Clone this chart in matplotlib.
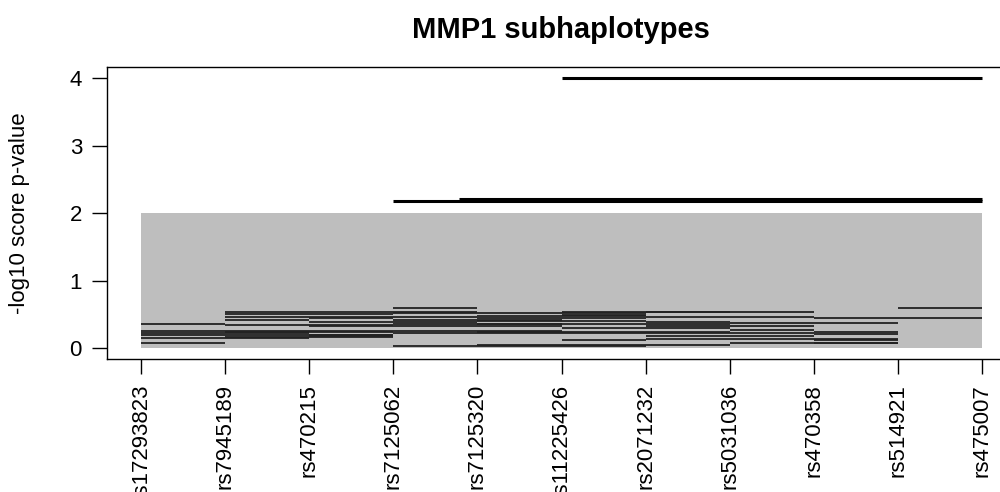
import matplotlib
matplotlib.use('Agg')
import matplotlib.pyplot as plt

plt.rcParams['font.family'] = ['Liberation Sans', 'DejaVu Sans']

snps = ['rs17293823', 'rs7945189', 'rs470215', 'rs7125062', 'rs7125320',
        'rs11225426', 'rs2071232', 'rs5031036', 'rs470358', 'rs514921', 'rs475007']

# significance band
band_start = 1
band_end = 11
band_top = 2

# subhaplotype windows: start snp, end snp, -log10 p
seg_start = [1, 1, 1, 1, 1, 1,
             2, 2, 2, 2, 2, 2, 2,
             3, 3, 3, 3, 3, 3, 3, 3,
             4, 4, 4, 4, 4, 4,
             5, 5, 5, 5, 5, 5, 5, 5,
             6, 6, 6, 6,
             7, 7, 7, 7, 7, 7, 7, 7,
             8, 8, 8, 8,
             9, 9, 9, 9, 9, 9,
             10]
seg_end = [2, 2, 3, 3, 4, 3,
           3, 3, 3, 4, 4, 4, 4,
           5, 5, 4, 5, 5, 6, 4, 4,
           5, 6, 6, 7, 7, 5,
           7, 7, 7, 7, 7, 6, 8, 8,
           8, 7, 7, 8,
           9, 8, 9, 8, 9, 8, 9, 9,
           9, 10, 10, 9,
           11, 10, 10, 10, 10, 10,
           11]
seg_p = [0.356, 0.07, 0.25, 0.22, 0.19, 0.15,
         0.54, 0.46, 0.41, 0.34, 0.50, 0.23, 0.17,
         0.53, 0.46, 0.44, 0.38, 0.33, 0.25, 0.18, 0.20,
         0.60, 0.41, 0.36, 0.22, 0.03, 0.52,
         0.52, 0.47, 0.44, 0.40, 0.36, 0.33, 0.24, 0.04,
         0.54, 0.49, 0.12, 0.30,
         0.46, 0.39, 0.32, 0.36, 0.18, 0.13, 0.22, 0.54,
         0.37, 0.13, 0.07, 0.26,
         0.45, 0.375, 0.24, 0.21, 0.12, 0.07,
         0.60]

# significant windows
sig_start = [6, 4, 4.78]
sig_end = [11, 11, 11]
sig_p = [4.0, 2.185, 2.205]

fig = plt.figure(figsize=(10, 4.92), dpi=100)
ax = fig.add_axes([0.107, 0.2707, 0.909, 0.5927])

x = list(range(1, len(snps) + 1))

ax.fill_between([band_start, band_end], 0, band_top, color='#bebebe', lw=0)
ax.hlines(seg_p, seg_start, seg_end, colors='#222222', lw=1.3)
ax.hlines(sig_p, sig_start, sig_end, colors='black', lw=2.2)

ax.set_xlim(0.6, 11.4)
ax.set_ylim(-0.16, 4.16)
ax.set_xticks(x)
ax.set_xticklabels(snps, rotation=90, fontsize=16)
ax.set_yticks([0, 1, 2, 3, 4])
ax.set_yticklabels(['0', '1', '2', '3', '4'], fontsize=16)
ax.tick_params(axis='both', direction='out', length=11, width=1, pad=7)
for s in ax.spines.values():
    s.set_linewidth(1)

fig.text(0.561, 0.939, 'MMP1 subhaplotypes', ha='center', va='center',
         fontsize=21, fontweight='bold')
fig.text(0.02, 0.567, '-log10 score p-value', ha='center', va='center',
         rotation=90, fontsize=16)

fig.savefig('out.png', dpi=100)
